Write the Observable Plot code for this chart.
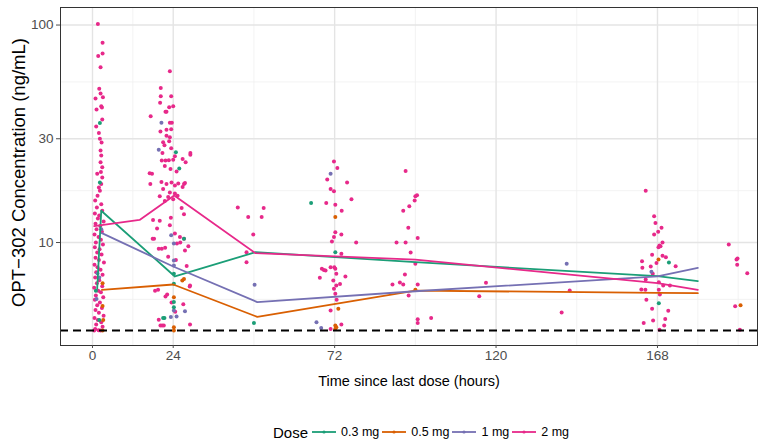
<!DOCTYPE html>
<html><head><meta charset="utf-8">
<script src="https://cdn.jsdelivr.net/npm/d3@7"></script>
<script src="https://cdn.jsdelivr.net/npm/@observablehq/plot@0.6"></script>
<style>
body{margin:0;background:#fff;font-family:"Liberation Sans",Arial,sans-serif;}
#wrap{position:relative;width:758px;height:444px;overflow:hidden;}
#legend{position:absolute;left:273px;top:422px;height:20px;display:flex;align-items:center;white-space:nowrap;color:#000;}
#legend svg{display:block;}
</style></head><body>
<div id="wrap"><div id="chart"></div><div id="legend"></div></div>
<script>
const doses = ["0.3 mg", "0.5 mg", "1 mg", "2 mg"];
const doseColors = ["#1B9E77", "#D95F02", "#7570B3", "#E7298A"];
const xTicks = [0, 24, 72, 120, 168];
const xMinor = [12, 48, 96, 144, 180, 192];
const yTicks = [10, 30, 100];
const yMinor = [5.477, 17.32, 54.77];
const lloq = 3.94;
const xTitle = "Time since last dose (hours)";
const yTitle = "OPT\u2212302 Concentration (ng/mL)";

// observed concentrations [hours, ng/mL]
const pts2mg = [
  [1.6,101],[3.0,83],[3.0,74],[1.7,72],[2.4,64],[2.0,51],[0.9,46],[3.1,46.5],[2.4,48.5],[2.6,42.3],[1.2,40.9],[2.8,41.8],[2.9,36.8],[1.1,34.2],[1.9,31.9],[2.2,30],[2.7,28.8],[2.4,26.5],[2.6,25.1],[2.4,23.4],[2.9,22.2],[1.4,20.7],[2.5,21.1],[2.9,19.9],[2.6,18.6],[1.9,17.9],
  [2.2,17.3],[1.5,16.4],[0.8,15.6],[2.6,15.0],[1.3,14.5],[2.9,14.0],[0.7,13.6],[2.0,13.3],[1.6,12.9],[3.3,12.5],[0.9,12.2],[2.3,11.9],[1.2,11.5],[2.8,11.2],[0.6,10.9],[1.8,10.6],[2.5,10.3],[1.0,10.0],[3.1,9.8],[0.7,9.5],[2.1,9.3],[1.4,9.0],[2.7,8.8],[0.9,8.5],[1.9,8.3],[3.4,8.1],[0.6,7.9],[1.5,7.7],[2.4,7.5],[1.1,7.3],[3.0,7.1],[0.8,6.9],[2.0,6.7],[1.3,6.5],[2.9,6.3],[0.5,6.2],[1.7,6.0],[2.5,5.9],[1.0,5.7],[3.2,5.6],[0.7,5.45],[2.2,5.3],[1.4,5.15],[2.8,5.0],[0.9,4.9],[1.9,4.75],[3.3,4.6],[0.6,4.5],[1.6,4.4],[2.6,4.3],[1.1,4.2],[3.0,4.1],[0.8,4.0],[1.8,3.95],[2.4,3.94],[0.5,3.94],
  [23.0,61.3],[20.3,51.3],[20.3,47],[23.4,47],[20.1,43.9],[22.8,41.9],[24.0,42.3],[21.7,39.9],[22.0,39.9],[17.3,38.1],[23.0,35.5],[23.6,35.5],[20.2,32.4],[22.0,33],[23.4,33.2],[22.0,31.0],[23.0,30.5],[21.0,28.9],[22.8,29.2],[21.4,28.0],[23.4,27.1],[20.8,25.8],[29.1,25.8],[29.1,25.3],[24.5,24.9],[26.8,24.2],[20.6,23.8],[21.7,23.8],[22.7,23.9],[24.0,24.0],[27.7,23.4],[17.7,20.7],[21.5,22.5],[23.2,21.8],[25.0,21.2],
  [20.5,19.0],[22.0,18.6],[23.5,18.9],[24.5,18.3],[25.5,18.7],[26.8,18.0],[27.5,18.8],[21.0,17.6],[23.0,17.0],[24.5,16.8],[20.0,16.3],[22.5,16.2],[24.0,15.8],[25.3,16.4],[21.5,15.5],[26.5,14.4],[27.2,18.6],[17.0,20.8],[17.2,18.6],
  [27.2,13.5],[18.0,12.7],[19.2,11.6],[17.9,10.4],[23.3,13.0],[20.0,12.6],[23.0,12.0],[24.5,11.0],[26.0,10.6],[27.2,10.4],[18.3,10.4],[19.7,9.35],[20.6,9.35],[21.6,9.45],[25.1,9.9],[26.1,10.0],[28.5,9.6],[27.5,9.2],[22.5,8.6],[24.8,8.3],[28.0,7.8],
  [29.0,6.34],[28.9,6.28],[18.6,6.0],[19.5,6.06],[22.2,5.77],[21.7,5.64],[19.7,4.41],[20.2,4.15],[20.7,4.15],[21.2,4.15],[29.0,4.2],[23.5,5.3],[24.6,4.8],[27.0,5.2],
  [43.2,14.5],[46.3,13.1],[47.8,10.9],[45.8,9.03],[45.8,8.12],[50.3,13.1],[50.9,14.4],
  [69.5,15.2],[71.8,23.6],[72.8,22.0],[69.8,19.5],[70.8,17.6],[71.8,17.2],[75.7,18.9],[77.0,15.8],[72.2,14.9],[74.1,14.0],[71.8,10.6],[72.2,11.15],[74.0,10.9],[71.2,10.1],[78.4,10.0],[74.0,8.87],[68.2,7.57],[68.8,7.48],[69.3,7.44],[70.8,7.7],[71.9,7.7],[72.2,7.57],[72.5,7.18],[75.2,6.98],[67.6,6.88],[71.6,6.68],[72.5,6.34],[73.6,6.45],[71.8,6.13],[72.2,5.81],[72.6,5.46],[70.8,4.87],[74.0,4.2],[70.8,4.0],
  [93.1,21.3],[96.5,16.5],[96.0,16.3],[95.8,15.6],[94.2,14.7],[92.4,14.0],[93.9,11.7],[96.7,10.5],[90.4,10.0],[93.1,10.0],[94.6,9.0],[96.0,7.98],[92.9,7.13],[89.2,6.41],[91.4,6.55],[92.4,6.41],[94.0,5.71],[96.7,6.41],[96.7,4.44],[96.7,4.26],[100.7,4.5],
  [117,6.53],[115,5.66],[139.5,4.77],[141.9,6.01],
  [164.5,17.3],[167,13.2],[167.4,12.3],[169.2,11.7],[168.2,11.2],[167,10.9],[169.5,10.0],[168.6,9.7],[168.9,9.6],[168.3,9.5],[166.4,8.78],[169.5,8.7],[170.5,8.56],[167.7,8.06],[163.4,8.2],[163.5,7.65],[166.0,7.76],[173.4,7.78],[166.6,7.18],[164.5,6.76],[168.4,6.57],[169.7,6.34],[171.7,6.34],[163.2,6.08],[164.4,6.06],[168.4,6.06],[168.7,5.77],[164.7,5.46],[166.4,4.96],[171.2,4.86],[170.3,4.45],[166.7,4.38],[163.9,4.26],[170.0,4.15],[168.6,3.97],
  [189.2,9.8],[191.5,8.35],[191.8,8.45],[191.7,7.9],[194.7,7.23],[191.1,5.09],[192.5,3.97]
];
const pts1mg = [
  [1.5,7.2],[2.6,11.5],[2.0,6.9],[1.2,5.5],
  [20.5,35.5],[19.7,26.7],[23.4,10.8],[24.2,9.9],[24.2,8.27],[24.2,7.84],[24.2,4.87],[23.3,4.55],[25.0,4.57],[27.5,4.83],
  [48.2,6.39],[70.8,20.7],[66.6,4.3],[68.0,4.05],[141,7.98],[166.2,7.33]
];
const pts05mg = [
  [3.0,6.5],[3.0,5.1],[3.2,4.4],[3.0,3.94],
  [26.7,6.68],[27.2,6.8],[24.2,5.6],[24.2,4.08],[24.2,3.94],
  [72.2,13.1],[73.1,4.96],[72.2,4.15],[72.5,4.08],[72.2,4.0],
  [96.0,6.06],[168.3,8.35],[192.7,5.15]
];
const pts03mg = [
  [2.2,35.4],[2.2,18.9],[2.0,4.4],[1.0,6.0],
  [24.8,26.0],[25.8,21.9],[27.2,10.4],[24.2,7.18],[24.2,6.46],[24.2,5.32],[24.2,5.04],[21.0,4.5],[21.4,4.5],
  [48,4.26],[65,15.2],[72.2,9.03],[171.4,8.09],[168.4,5.26]
];

// mean profiles [hours, ng/mL]
const mean03mg = [[1.4,6.15],[2.6,14.0],[24.5,6.98],[48.5,9.03],[96,8.12],[168,7.0],[180,6.64]];
const mean05mg = [[2.8,6.06],[24,6.41],[49,4.55],[96,6.01],[168,5.87],[180,5.85]];
const mean1mg  = [[2.8,11.04],[24,7.76],[49,5.32],[96,5.97],[168,6.98],[180,7.65]];
const mean2mg  = [[0.5,11.9],[14,12.7],[24.3,16.45],[48.5,8.93],[96,8.35],[168,6.5],[180,6.06]];

const toRows = (arr, dose) => arr.map(([t, c]) => ({t, c, dose}));
const points = [
  ...toRows(pts2mg, "2 mg"), ...toRows(pts1mg, "1 mg"),
  ...toRows(pts05mg, "0.5 mg"), ...toRows(pts03mg, "0.3 mg")
];
const means = [
  ...toRows(mean03mg, "0.3 mg"), ...toRows(mean05mg, "0.5 mg"),
  ...toRows(mean1mg, "1 mg"), ...toRows(mean2mg, "2 mg")
];

const font = '"Liberation Sans", Arial, sans-serif';
const chart = Plot.plot({
  width: 758, height: 400,
  marginLeft: 60, marginRight: 1, marginTop: 7, marginBottom: 55,
  style: {fontFamily: font, fontSize: "13.5px", background: "#fff", overflow: "visible"},
  x: {domain: [-9.515, 197.74]},
  y: {type: "log", domain: [3.361, 120.4]},
  color: {domain: doses, range: doseColors},
  marks: [
    Plot.ruleX(xMinor, {stroke: "#f0f0f0", strokeWidth: 0.8}),
    Plot.ruleY(yMinor, {stroke: "#f0f0f0", strokeWidth: 0.8}),
    Plot.ruleX(xTicks, {stroke: "#e4e4e4", strokeWidth: 1.4}),
    Plot.ruleY(yTicks, {stroke: "#e4e4e4", strokeWidth: 1.4}),
    Plot.dot(points, {x: "t", y: "c", fill: "dose", r: 2}),
    Plot.line(means, {x: "t", y: "c", z: "dose", stroke: "dose", strokeWidth: 1.8}),
    Plot.ruleY([lloq], {stroke: "#000", strokeWidth: 2, strokeDasharray: "8,5"}),
    Plot.frame({stroke: "#333", strokeWidth: 1}),
    Plot.axisX({ticks: xTicks, tickSize: 3, tickPadding: 2, label: null, color: "#4d4d4d", tickFormat: d => String(d)}),
    Plot.axisY({ticks: yTicks, tickSize: 4, tickPadding: 3, label: null, color: "#4d4d4d", tickFormat: d => String(d)}),
    Plot.text([xTitle], {text: d => d, frameAnchor: "bottom", dy: 36, fontSize: 14.5, fill: "#000", textAnchor: "middle", lineAnchor: "middle"}),
    Plot.text([yTitle], {text: d => d, frameAnchor: "left", rotate: -90, dx: -41.5, dy: -4, fontSize: 18.5, fill: "#000", textAnchor: "middle", lineAnchor: "middle"})
  ]
});
document.getElementById("chart").appendChild(chart);

const leg = document.getElementById("legend");
leg.innerHTML = `<span style="font-size:15px;margin-right:4px">Dose</span>` +
  doses.map((d, i) => `<svg width="24" height="10"><line x1="0" x2="24" y1="5" y2="5" stroke="${doseColors[i]}" stroke-width="1.8"/><circle cx="12" cy="5" r="1.6" fill="${doseColors[i]}"/></svg><span style="font-size:12.5px;margin:0 3px 0 5px">${d}</span>`).join("");
</script>
</body></html>
